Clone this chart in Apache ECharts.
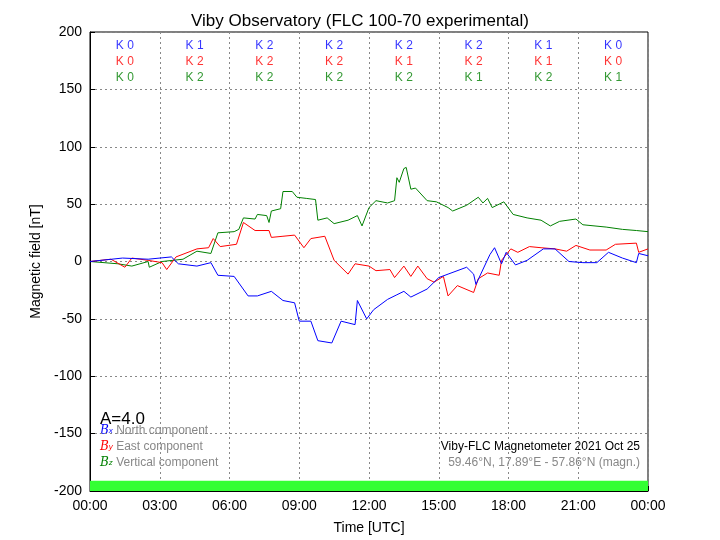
<!DOCTYPE html><html><head><meta charset="utf-8">
<script src="https://cdn.jsdelivr.net/npm/echarts@6/dist/echarts.min.js"></script>
<style>body{margin:0}#c{width:720px;height:540px}</style></head><body><div id="c"></div><script>
const bx=[[0,0],[1.4,3],[2.5,2],[3.5,4],[3.8,-2],[4.6,-4],[5.2,-1],[5.5,-12],[6.2,-13],[6.8,-30],[7.2,-30],[7.8,-26],[8.3,-34],[8.8,-36],[9.0,-52],[9.5,-52],[9.8,-69],[10.4,-71],[10.8,-52],[11.4,-55],[11.5,-34],[11.9,-50],[12.2,-42],[12.8,-33],[13.2,-29],[13.5,-26],[13.8,-31],[14.5,-24],[15.0,-14],[15.4,-11],[16.2,-5],[16.5,-11],[16.6,-20],[17.2,6],[17.4,12],[17.7,-2],[17.9,8],[18.3,-3],[18.8,1],[19.5,11],[20.0,11],[20.6,0],[21.2,-1],[21.8,-1],[22.3,8],[22.9,3],[23.5,-1],[23.6,7],[24,5]];
const by=[[0,0],[0.9,2],[1.5,-5],[1.8,3],[2.5,1],[3.1,-1],[3.3,-7],[3.7,4],[4.6,11],[5.1,12],[5.3,20],[5.6,13],[6.3,15],[6.6,34],[7.1,27],[7.7,27],[7.8,21],[8.3,22],[8.8,23],[9.2,12],[9.5,20],[10.1,22],[10.5,1],[11.1,-11],[11.4,-2],[12.0,-4],[12.3,-8],[12.9,-7],[13.1,-14],[13.5,-4],[13.8,-13],[14.1,-4],[14.5,-15],[14.8,-18],[15.2,-13],[15.4,-30],[15.8,-21],[16.5,-27],[16.7,-15],[17.1,-10],[17.6,-12],[17.7,1],[18.1,11],[18.4,8],[18.9,13],[19.4,12],[20.0,11],[20.5,9],[20.9,14],[21.5,10],[22.2,10],[22.6,15],[23.5,16],[23.6,8],[24,11]];
const bz=[[0,0],[1.2,-2],[1.8,-4],[2.5,0],[2.55,-5],[3.1,0],[4.0,2],[4.6,9],[5.2,7],[5.5,25],[6.2,26],[6.4,28],[6.6,38],[7.1,37],[7.2,41],[7.6,40],[7.7,34],[7.8,44],[8.2,46],[8.3,61],[8.7,61],[8.9,56],[9.3,55],[9.7,54],[9.8,36],[10.2,38],[10.5,33],[11.1,36],[11.5,40],[11.7,31],[12.0,47],[12.3,53],[12.8,51],[13.1,53],[13.2,73],[13.3,69],[13.5,81],[13.6,82],[13.8,63],[14.0,64],[14.5,53],[14.9,52],[15.4,47],[15.6,44],[16.2,49],[16.7,56],[16.9,51],[17.1,55],[17.3,47],[17.8,52],[18.2,41],[18.8,38],[19.4,36],[19.8,31],[20.2,35],[20.9,37],[21.2,32],[22.2,30],[22.9,28],[23.5,27],[24,26]];
const kx=[0,1,2,2,2,2,1,0], ky=[0,2,2,2,1,2,1,0], kz=[0,2,2,2,2,1,2,1];
const xTicks=['00:00','03:00','06:00','09:00','12:00','15:00','18:00','21:00','00:00'];
const kRow=(k,y,c)=>({type:'scatter',symbolSize:0,silent:true,data:k.map((v,i)=>[1.5+3*i,y,'K '+v]),
 label:{show:true,formatter:p=>p.data[2],color:c,fontSize:12,fontFamily:'Liberation Sans'}});
const ln=(d,c)=>({type:'line',data:d,showSymbol:false,lineStyle:{color:c,width:1},silent:true});
const ch=echarts.init(document.getElementById('c'));
const gridLine={show:true,lineStyle:{color:'#888',type:[2,3],width:1}};
ch.setOption({animation:false,
 title:{text:'Viby Observatory (FLC 100-70 experimental)',left:'center',top:8,textStyle:{fontSize:17,fontWeight:'normal',fontFamily:'Liberation Sans',color:'#000'}},
 grid:{left:90,right:72,top:32,bottom:48,show:true,borderColor:'#000',borderWidth:1},
 xAxis:{type:'value',min:0,max:24,interval:3,name:'Time [UTC]',nameLocation:'middle',nameGap:30,
  nameTextStyle:{fontSize:14,color:'#000',fontFamily:'Liberation Sans'},
  axisLabel:{formatter:v=>xTicks[v/3],fontSize:14,color:'#000',fontFamily:'Liberation Sans'},
  axisLine:{onZero:false,lineStyle:{color:'#000'}},axisTick:{inside:true,length:5,lineStyle:{color:'#000'}},splitLine:gridLine},
 yAxis:{type:'value',min:-200,max:200,interval:50,name:'Magnetic field [nT]',nameLocation:'middle',nameGap:42,
  nameTextStyle:{fontSize:14,color:'#000',fontFamily:'Liberation Sans'},
  axisLabel:{fontSize:14,color:'#000',fontFamily:'Liberation Sans'},
  axisLine:{onZero:false,lineStyle:{color:'#000'}},axisTick:{inside:true,length:5,lineStyle:{color:'#000'}},splitLine:gridLine},
 series:[
  {type:'line',data:[],markArea:{silent:true,itemStyle:{color:'#33ff33',opacity:1},data:[[{coord:[0,-200]},{coord:[24,-191]}]]}},
  ln(bz,'#008000'),ln(by,'#ff0000'),ln(bx,'#0000ff'),
  kRow(kx,188,'#0000ff'),kRow(ky,174,'#ff0000'),kRow(kz,160,'#008000')],
 graphic:[
  {type:'text',left:100,top:411,style:{text:'A=4.0',fontSize:17,fill:'#000',fontFamily:'Liberation Sans'}},
  {type:'text',left:100,top:425,style:{text:'{b|B}{s|x} North component',rich:{b:{fill:'#0000ff',fontStyle:'italic',fontFamily:'DejaVu Serif',fontSize:12},s:{fill:'#0000ff',fontSize:8,fontStyle:'italic'}},fill:'#888',fontSize:12,fontFamily:'Liberation Sans'}},
  {type:'text',left:100,top:441,style:{text:'{b|B}{s|y} East component',rich:{b:{fill:'#ff0000',fontStyle:'italic',fontFamily:'DejaVu Serif',fontSize:12},s:{fill:'#ff0000',fontSize:8,fontStyle:'italic'}},fill:'#888',fontSize:12,fontFamily:'Liberation Sans'}},
  {type:'text',left:100,top:457,style:{text:'{b|B}{s|z} Vertical component',rich:{b:{fill:'#008000',fontStyle:'italic',fontFamily:'DejaVu Serif',fontSize:12},s:{fill:'#008000',fontSize:8,fontStyle:'italic'}},fill:'#888',fontSize:12,fontFamily:'Liberation Sans'}},
  {type:'text',right:80,top:441,style:{text:'Viby-FLC Magnetometer 2021 Oct 25',fontSize:12,fill:'#000',fontFamily:'Liberation Sans'}},
  {type:'text',right:80,top:457,style:{text:'59.46°N, 17.89°E - 57.86°N (magn.)',fontSize:12,fill:'#888',fontFamily:'Liberation Sans'}}
 ]});
</script></body></html>
